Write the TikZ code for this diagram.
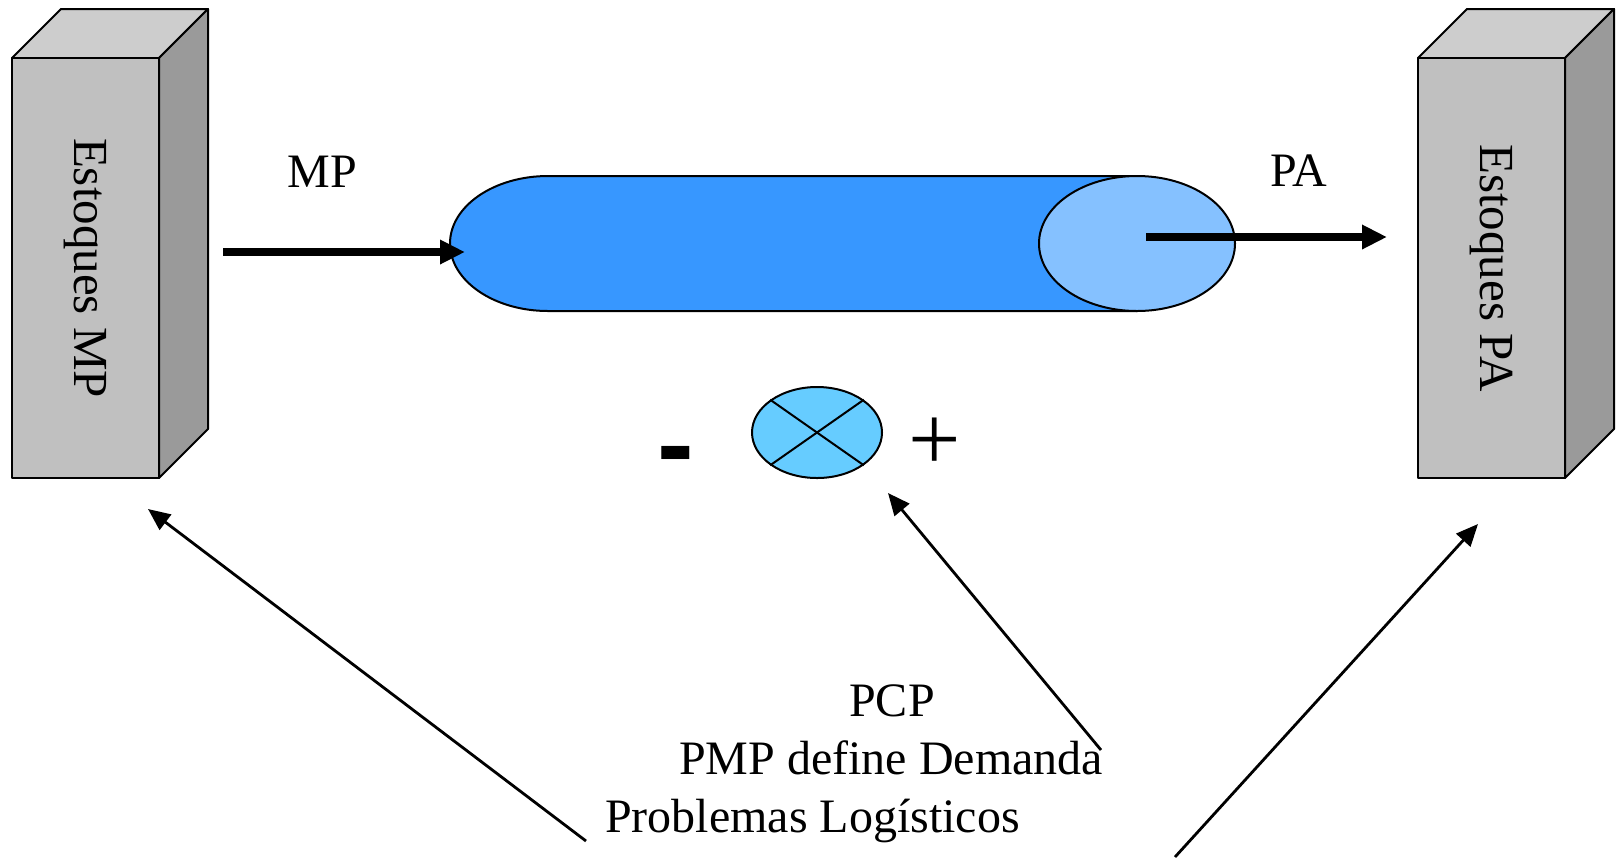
\documentclass[tikz,border=0pt]{standalone}
\usepackage{fontspec}
\setmainfont{Liberation Serif}
\newfontfamily\signfont{Liberation Sans}
\usetikzlibrary{arrows.meta,shapes.geometric}
\definecolor{tubeblue}{HTML}{3797FF}
\definecolor{tubecap}{HTML}{85C1FF}
\definecolor{dialblue}{HTML}{66CCFF}
\definecolor{boxfront}{HTML}{C0C0C0}
\definecolor{boxtop}{HTML}{CDCDCD}
\definecolor{boxside}{HTML}{9A9A9A}

\begin{document}
\begin{tikzpicture}[
  x=0.5pt, y=-0.5pt,
  font=\fontsize{24}{28}\selectfont,
  face/.style={draw=black, line width=1pt, line join=round},
  front/.style={face, fill=boxfront, rotate=-90, inner sep=0pt,
                minimum width=210pt, minimum height=73.5pt},
  oval/.style={ellipse, draw=black, line width=1pt, inner sep=0pt},
  lbl/.style={inner sep=0pt, anchor=base},
  flow/.style={-{Triangle[length=12.5pt, width=11.5pt]}, line width=4.2pt},
  ptr/.style={-{Triangle[length=11pt, width=9.5pt]}, line width=1.4pt},
]
\fill[white] (0,0) rectangle (1616,858);
\useasboundingbox (0,0) rectangle (1616,858);

% the two stock boxes
\foreach \x/\txt/\nm in {12/Estoques MP/stockmp, 1418/Estoques PA/stockpa} {
  \draw[face, fill=boxtop] (\x,58) -- ++(49,-49) -- ++(147,0) -- ++(-49,49) -- cycle;
  \draw[face, fill=boxside] (\x+147,58) -- ++(49,-49) -- ++(0,420) -- ++(-49,49) -- cycle;
  \node[front, font=\fontsize{24.5}{28}\selectfont] (\nm) at (\x+73.5,268) {\txt};
}

% the production tube
\draw[face, fill=tubeblue] (1137,311) -- (548,311)
  arc[start angle=90, end angle=270, x radius=98, y radius=67.5] -- (1137,176) -- cycle;
\node[oval, fill=tubecap, minimum width=98pt, minimum height=67.5pt]
  (tubeend) at (1137,243.5) {};

\coordinate (mpout) at (223,252);
\coordinate (mpin) at (465,252);
\coordinate (paout) at (1146,237);
\coordinate (pain) at (1387,237);
\draw[flow] (mpout) -- (mpin);
\draw[flow] (paout) -- (pain);
\node[lbl] (mplbl) at (322.5,187) {MP};
\node[lbl] (palbl) at (1298.5,186) {PA};

% regulator between minus and plus
\node[oval, fill=dialblue, minimum width=65pt, minimum height=45.5pt]
  (dial) at (817,432.5) {};
\draw[line width=1pt] (dial.35) -- (dial.215);
\draw[line width=1pt] (dial.145) -- (dial.325);
\node[lbl, font=\signfont\bfseries\fontsize{55}{60}\selectfont] (minus) at (675.5,481) {-};
\node[lbl, font=\fontsize{46.5}{50}\selectfont] (plus) at (934.5,470) {+};

% planning texts
\node[lbl] (pcp) at (892,716) {PCP};
\node[lbl] (pmp) at (891,774) {PMP define Demanda};
\node[lbl] (logist) at (812.5,832) {Problemas Logísticos};

\coordinate (fromlog) at (586,841);
\coordinate (tomp) at (148,509);
\coordinate (fromdem) at (1101,750);
\coordinate (todial) at (888,493);
\coordinate (fromlog2) at (1175,857);
\coordinate (topa) at (1478,524);
\draw[ptr] (fromlog) -- (tomp);
\draw[ptr] (fromdem) -- (todial);
\draw[ptr] (fromlog2) -- (topa);
\end{tikzpicture}
\end{document}
